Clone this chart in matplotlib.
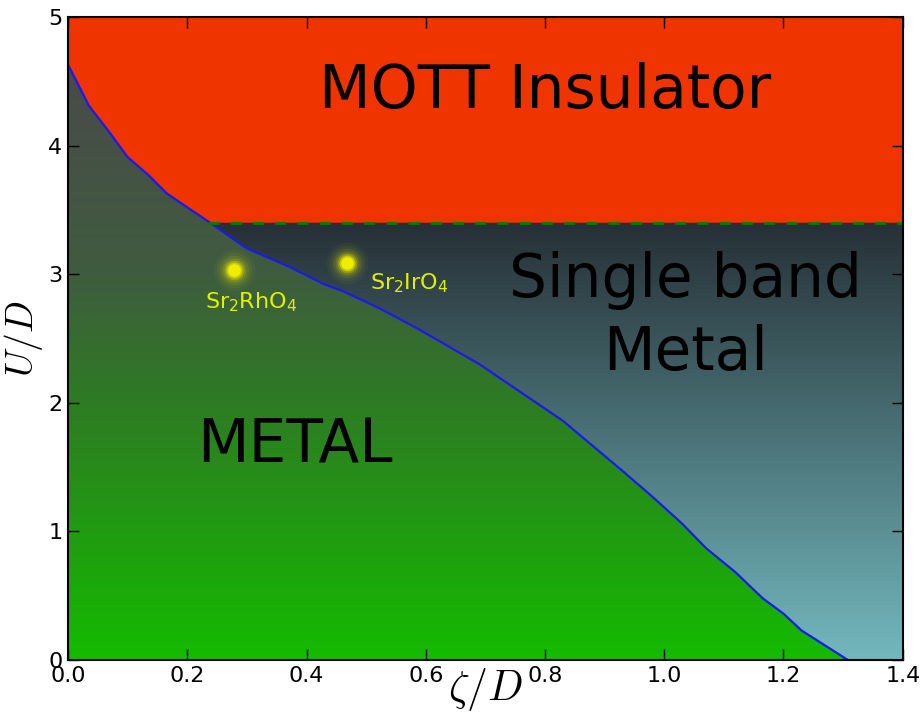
import numpy as np
import matplotlib
matplotlib.use("Agg")
import matplotlib.pyplot as plt
from matplotlib.colors import LinearSegmentedColormap
from matplotlib.patches import Polygon

# Phase boundary between the orbital-selective metal and the single band metal
zeta_b = [0.0, 0.035, 0.07, 0.10, 0.135, 0.165, 0.20, 0.235, 0.30, 0.37, 0.43,
          0.46, 0.52, 0.585, 0.69, 0.76, 0.83, 0.93, 0.98, 1.03, 1.07, 1.12,
          1.165, 1.20, 1.23, 1.308]
U_b = [4.63, 4.31, 4.10, 3.91, 3.77, 3.63, 3.52, 3.41, 3.20, 3.06, 2.92,
       2.87, 2.74, 2.58, 2.30, 2.08, 1.86, 1.47, 1.27, 1.06, 0.87, 0.68,
       0.48, 0.36, 0.23, 0.0]

# Mott transition of the single band
U_mott = 3.4

# Materials
mat_names = [r"Sr$_2$RhO$_4$", r"Sr$_2$IrO$_4$"]
mat_zeta = [0.278, 0.468]
mat_U = [3.03, 3.09]
lab_zeta = [0.307, 0.573]
lab_U = [2.78, 2.93]

xmin, xmax, ymin, ymax = 0.0, 1.4, 0.0, 5.0
xticks = [0.0, 0.2, 0.4, 0.6, 0.8, 1.0, 1.2, 1.4]
yticks = [0, 1, 2, 3, 4, 5]

fig = plt.figure(figsize=(9.24, 7.22), dpi=100)
ax = fig.add_axes([0.0736, 0.0859, 0.9034, 0.8906])
ax.set_xlim(xmin, xmax)
ax.set_ylim(ymin, ymax)

zb = np.array(zeta_b)
ub = np.array(U_b)

# background of the Mott region
ax.fill_between([xmin, xmax], ymin, ymax, color="#f03400", zorder=0)

# vertical colour gradients
grad = np.linspace(0, 1, 256).reshape(-1, 1)
cm_metal = LinearSegmentedColormap.from_list(
    "metal", [(0.0, "#14bb00"), (0.42, "#2d7d22"), (0.65, "#3f5c3f"),
              (1.0, "#4a4a4a")])
cm_single = LinearSegmentedColormap.from_list(
    "single", [(0.0, "#73b8be"), (0.5, "#4b7479"), (1.0, "#263036")])

img1 = ax.imshow(grad, aspect="auto", cmap=cm_metal, origin="lower",
                 extent=[xmin, xmax, 0, ub[0]], zorder=1, interpolation="bilinear")
poly1 = Polygon(np.vstack([np.column_stack([zb, ub]), [[xmin, 0.0]]]),
                closed=True, transform=ax.transData, facecolor="none",
                edgecolor="none")
ax.add_patch(poly1)
img1.set_clip_path(poly1)

img2 = ax.imshow(grad, aspect="auto", cmap=cm_single, origin="lower",
                 extent=[xmin, xmax, 0, U_mott], zorder=1, interpolation="bilinear")
mask = ub <= U_mott + 0.02
pts = np.column_stack([zb[mask], ub[mask]])
poly2 = Polygon(np.vstack([[[zb[mask][0], U_mott]], pts, [[xmax, 0.0],
                                                          [xmax, U_mott]]]),
                closed=True, transform=ax.transData, facecolor="none",
                edgecolor="none")
ax.add_patch(poly2)
img2.set_clip_path(poly2)

# boundaries
ax.plot(zb, ub, color="#1a1aee", lw=1.6, zorder=3)
ax.plot([zb[mask][0], xmax], [U_mott, U_mott], color="#0a7a0a", lw=2.0,
        ls=(0, (4, 4)), zorder=3)

# glowing material markers
for s, a in [(900, 0.04), (650, 0.06), (450, 0.10), (300, 0.16), (200, 0.3),
             (130, 0.55), (80, 1.0)]:
    ax.scatter(mat_zeta, mat_U, s=s, color="#f0ee00", alpha=a, lw=0, zorder=4)

for name, x, y in zip(mat_names, lab_zeta, lab_U):
    ax.text(x, y, name, color="#e2ef00", fontsize=16, ha="center",
            va="center", zorder=5)

# region labels
ax.text(0.80, 4.42, "MOTT Insulator", fontsize=43, ha="center", va="center",
        color="black", zorder=5)
ax.text(1.036, 2.67, "Single band\nMetal", fontsize=43, ha="center",
        va="center", color="black", linespacing=1.3, zorder=5)
ax.text(0.38, 1.66, "METAL", fontsize=43, ha="center", va="center",
        color="black", zorder=5)

ax.set_xticks(xticks)
ax.set_xticklabels([f"{t:.1f}" for t in xticks])
ax.set_yticks(yticks)
ax.set_yticklabels([str(t) for t in yticks])
ax.tick_params(direction="in", length=8, width=1, top=True, right=True,
               labelsize=16, pad=4)
for sp in ax.spines.values():
    sp.set_linewidth(1.5)
    sp.set_zorder(6)

ax.set_xlabel(r"$\zeta/D$", fontsize=30, math_fontfamily="cm", labelpad=-14)
ax.set_ylabel(r"$U/D$", fontsize=27, math_fontfamily="cm", labelpad=2)

fig.savefig("out.png", dpi=100)
